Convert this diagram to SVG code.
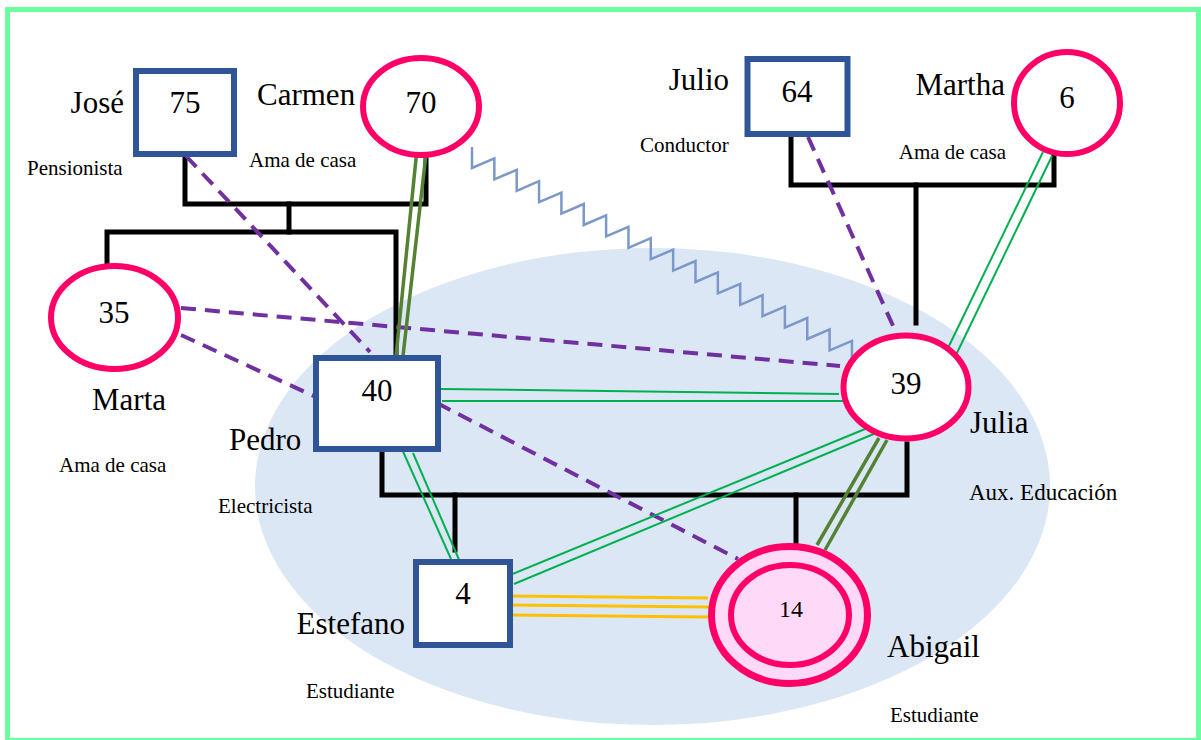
<svg xmlns="http://www.w3.org/2000/svg" width="1201" height="740" viewBox="0 0 1201 740">
<style>
text{font-family:"Liberation Serif","Times New Roman",serif;fill:#000}
.big{font-size:31px}
.sm{font-size:21px}
.num{font-size:31px;text-anchor:middle}
.box{fill:#fff;stroke:#2F5597;stroke-width:6}
.fem{fill:#fff;stroke:#FF0066;stroke-width:6}
.gen{fill:none;stroke:#000;stroke-width:5;stroke-linecap:square}
.dash{fill:none;stroke:#7030A0;stroke-width:4;stroke-dasharray:15 9}
.grn{fill:none;stroke:#00B050;stroke-width:2}
.olv{fill:none;stroke:#548235;stroke-width:3.5}
.gold{fill:none;stroke:#FFC000;stroke-width:3}
.zig{fill:none;stroke:#7B98C9;stroke-width:2.5;stroke-linejoin:miter}
</style>
<rect x="0" y="0" width="1201" height="740" fill="#fff"/>
<rect x="7.5" y="9.5" width="1191" height="731" fill="none" stroke="#6BFF9F" stroke-width="5"/>
<ellipse id="household" cx="652.5" cy="486.5" rx="397.5" ry="238.5" fill="#DCE7F5"/>
<g id="genogram-lines">
<path class="gen" d="M185,157 V204 H426 V158"/>
<path class="gen" d="M289,204 V232"/>
<path class="gen" d="M107,263 V232 H396 V355"/>
<path class="gen" d="M791,137 V185 H1054 V156"/>
<path class="gen" d="M916,185 V323"/>
<path class="gen" d="M382,452 V495 H907 V444"/>
<path class="gen" d="M455,495 V550"/>
<path class="gen" d="M796,495 V543"/>
</g>
<g id="connectors">
<path class="zig" d="M472,147 v21 l22.35,-9.6 v21 l22.35,-9.6 v21 l22.35,-9.6 v21 l22.35,-9.6 v21 l22.35,-9.6 v21 l22.35,-9.6 v21 l22.35,-9.6 v21 l22.35,-9.6 v21 l22.35,-9.6 v21 l22.35,-9.6 v21 l22.35,-9.6 v21 l22.35,-9.6 v21 l22.35,-9.6 v21 l22.35,-9.6 v21 l22.35,-9.6 v21 l22.35,-9.6 v21 l22.35,-9.6 v21"/>
<line class="dash" x1="186" y1="156" x2="370" y2="352"/>
<line class="dash" x1="181" y1="308" x2="840" y2="366"/>
<line class="dash" x1="181" y1="335" x2="316" y2="397"/>
<line class="dash" x1="437" y1="403" x2="738" y2="559"/>
<line class="dash" x1="808" y1="137" x2="894" y2="328"/>
<line class="grn" x1="441" y1="389" x2="839" y2="394"/>
<line class="grn" x1="442" y1="401" x2="847" y2="401"/>
<line class="grn" x1="401" y1="447" x2="451" y2="559"/>
<line class="grn" x1="413" y1="453" x2="460" y2="562"/>
<line class="grn" x1="870" y1="427" x2="503" y2="578"/>
<line class="grn" x1="876" y1="433" x2="514" y2="584"/>
<line class="grn" x1="1043" y1="152" x2="948" y2="348"/>
<line class="grn" x1="1052" y1="156" x2="955" y2="357"/>
<line class="olv" x1="417" y1="149" x2="396" y2="356"/>
<line class="olv" x1="426" y1="154" x2="403" y2="356"/>
<line class="olv" x1="879" y1="438" x2="817" y2="545"/>
<line class="olv" x1="887" y1="440" x2="825" y2="550"/>
<line class="gold" x1="509" y1="596" x2="708" y2="598"/>
<line class="gold" x1="510" y1="605" x2="709" y2="607"/>
<line class="gold" x1="508" y1="615" x2="708" y2="617"/>
</g>
<g id="jose">
<rect class="box" x="136" y="71" width="98" height="83"/>
<text class="num" x="185" y="113">75</text>
<text class="big" x="124" y="113" text-anchor="end">José</text>
<text class="sm" x="27" y="175">Pensionista</text>
</g>
<g id="carmen">
<ellipse class="fem" cx="421" cy="106.5" rx="58" ry="48.5"/>
<text class="num" x="421" y="113">70</text>
<text class="big" x="257" y="105">Carmen</text>
<text class="sm" x="249" y="167">Ama de casa</text>
</g>
<g id="julio">
<rect class="box" x="747.5" y="59" width="100" height="75"/>
<text class="num" x="797" y="102">64</text>
<text class="big" x="729" y="90" text-anchor="end">Julio</text>
<text class="sm" x="640" y="152">Conductor</text>
</g>
<g id="martha">
<ellipse class="fem" cx="1067" cy="103" rx="53" ry="51"/>
<text class="num" x="1067" y="108">6</text>
<text class="big" x="1005" y="95" text-anchor="end">Martha</text>
<text class="sm" x="1006" y="159" text-anchor="end">Ama de casa</text>
</g>
<g id="marta">
<ellipse class="fem" cx="114.5" cy="317.5" rx="63.5" ry="51.5"/>
<text class="num" x="114" y="323">35</text>
<text class="big" x="92" y="410">Marta</text>
<text class="sm" x="59" y="472">Ama de casa</text>
</g>
<g id="pedro">
<rect class="box" x="316" y="358" width="122" height="91"/>
<text class="num" x="377" y="401">40</text>
<text class="big" x="229" y="450">Pedro</text>
<text class="sm" x="218" y="513">Electricista</text>
</g>
<g id="julia">
<ellipse class="fem" cx="906" cy="387" rx="62.5" ry="51.5"/>
<text class="num" x="906" y="394">39</text>
<text class="big" x="970" y="433">Julia</text>
<text x="969" y="500" font-size="23">Aux. Educación</text>
</g>
<g id="estefano">
<rect class="box" x="416" y="562" width="94" height="83"/>
<text class="num" x="463" y="604">4</text>
<text class="big" x="405" y="634" text-anchor="end">Estefano</text>
<text class="sm" x="306" y="698">Estudiante</text>
</g>
<g id="abigail">
<ellipse cx="789.5" cy="615" rx="78" ry="68.5" fill="#FFD9F7" stroke="#FF0066" stroke-width="7"/>
<ellipse cx="790" cy="615" rx="59" ry="50" fill="#FFD9F7" stroke="#FF0066" stroke-width="6"/>
<text x="791" y="617" font-size="24" text-anchor="middle">14</text>
<text class="big" x="887" y="657">Abigail</text>
<text class="sm" x="890" y="722">Estudiante</text>
</g>
</svg>
